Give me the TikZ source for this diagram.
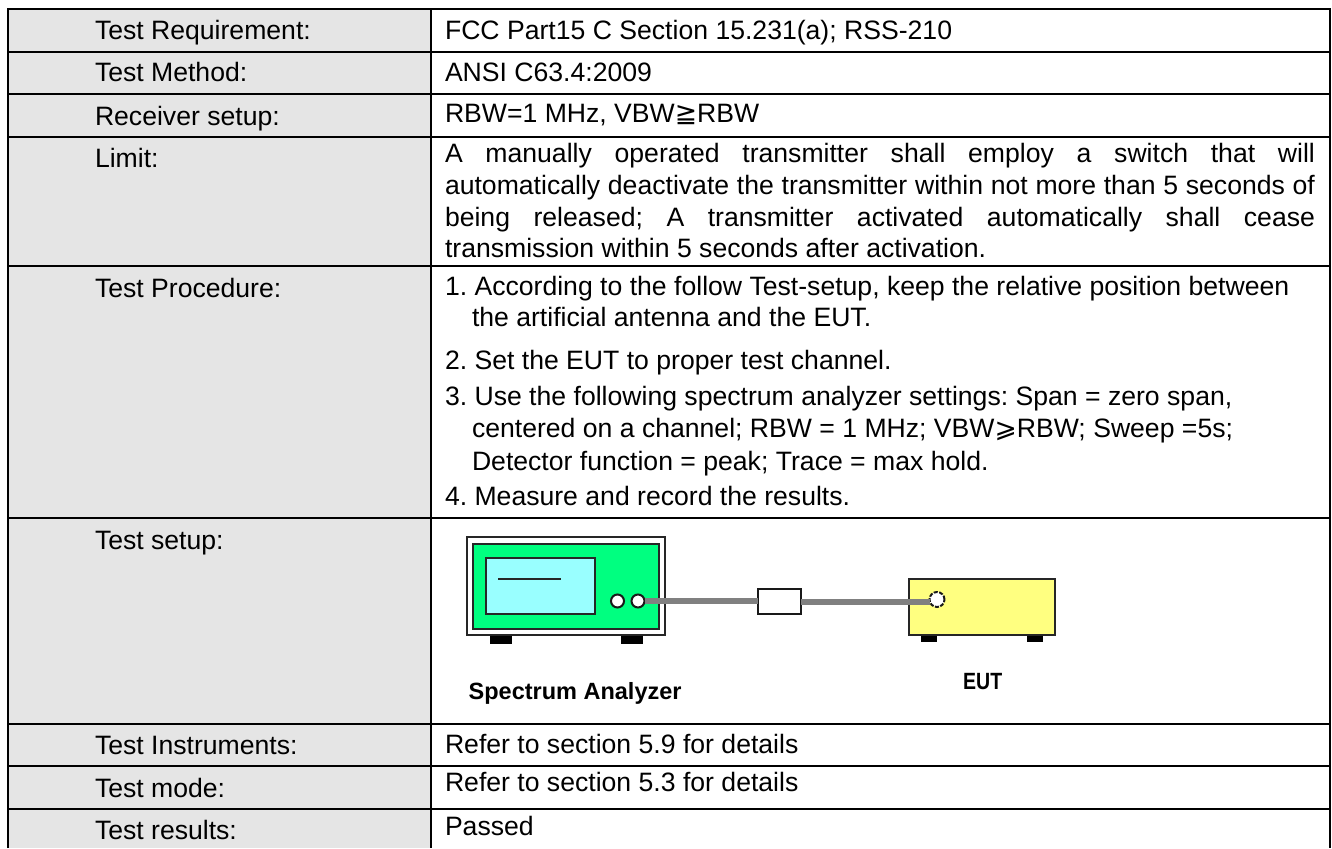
\documentclass[tikz,border=0pt]{standalone}
\usepackage{fontspec}
\setmainfont{Liberation Sans}
\newfontfamily\symfont{DejaVu Sans}
\tikzset{
  x=1pt,y=-1pt,
  txt/.style={anchor=base west,inner sep=0pt,outer sep=0pt,font=\fontsize{26.6}{31.7}\selectfont\frenchspacing},
  rule/.style={line width=2pt,black},
  dev/.style={draw=black!85,line width=2pt},
  foot/.style={fill=black,draw=none},
  port/.style={circle,draw=black!90,fill=white,line width=2pt,minimum size=13pt,inner sep=0pt,outer sep=0pt},
  cable/.style={line width=6pt,draw=black!50},
  devlabel/.style={anchor=base west,inner sep=0pt,font=\fontsize{23.5}{26}\selectfont\bfseries},
}
\begin{document}
\begin{tikzpicture}
\useasboundingbox (0,0) rectangle (1332,848);
\fill[white] (0,0) rectangle (1332,848);
\fill[black!10] (7.5,9) rectangle (431,848);
% table rules
\draw[rule] (7.5,848) -- (7.5,9) -- (1329.5,9) -- (1329.5,848);
\draw[rule] (431,9) -- (431,848);
\foreach \ry in {52,94,136.5,266,518,724,766,809}
  \draw[rule] (7.5,\ry) -- (1329.5,\ry);
% left labels
\node[txt] (l1) at (95,40) {Test Requirement:};
\node[txt] (l2) at (95,82) {Test Method:};
\node[txt] (l3) at (95,125) {Receiver setup:};
\node[txt] (l4) at (95,167.3) {Limit:};
\node[txt] (l5) at (95,297) {Test Procedure:};
\node[txt] (l6) at (95,549) {Test setup:};
\node[txt] (l7) at (95,754) {Test Instruments:};
\node[txt] (l8) at (95,797) {Test mode:};
\node[txt] (l9) at (95,839) {Test results:};
% right column
\node[txt] (r1) at (445,40) {FCC Part15 C Section 15.231(a); RSS-210};
\node[txt] (r2) at (445,82) {ANSI C63.4:2009};
\node[txt] (r3) at (445,122) {RBW=1 MHz, VBW{\symfont ≧}RBW};
\node[txt,anchor=north west,text width=870pt,align=justify] (r4) at (445,143.5)
  {A manually operated transmitter shall employ a switch that will\linebreak
   automatically deactivate the transmitter within not more than 5 seconds of\linebreak
   being released; A transmitter activated automatically shall cease\linebreak
   transmission within 5 seconds after activation.};
\node[txt] (p1a) at (445,295) {1. According to the follow Test-setup, keep the relative position between};
\node[txt] (p1b) at (472,326.7) {the artificial antenna and the EUT.};
\node[txt] (p2) at (445,369) {2. Set the EUT to proper test channel.};
\node[txt] (p3a) at (445,405) {3. Use the following spectrum analyzer settings: Span = zero span,};
\node[txt] (p3b) at (472,437.7) {centered on a channel; RBW = 1 MHz; VBW{\symfont ⩾}RBW; Sweep =5s;};
\node[txt] (p3c) at (472,470) {Detector function = peak; Trace = max hold.};
\node[txt] (p4) at (445,505) {4. Measure and record the results.};
\node[txt] (r7) at (445,753) {Refer to section 5.9 for details};
\node[txt] (r8) at (445,791.7) {Refer to section 5.3 for details};
\node[txt] (r9) at (445,835) {Passed};
% spectrum analyzer
\fill[foot] (489.5,635) rectangle (511.5,644);
\fill[foot] (621,635) rectangle (643,644);
\draw[dev,fill=white] (467,537) rectangle (665,635);
\draw[dev,fill={rgb,255:red,0;green,255;blue,128}] (473,544) rectangle (659,629);
\draw[dev,fill={rgb,255:red,153;green,255;blue,255}] (486,558) rectangle (595,614);
\draw[dev] (498,578.5) -- (561,578.5);
\node[port] (sa1) at (617.5,601) {};
\node[port] (sa2) at (638,601) {};
% attenuator
\node[draw=black!90,fill=white,line width=2pt,minimum width=43pt,minimum height=25pt,inner sep=0pt,outer sep=0pt] (att) at (779.5,601.5) {};
% EUT
\fill[foot] (920.5,635) rectangle (936.5,642);
\fill[foot] (1027,635) rectangle (1043,642);
\draw[dev,fill={rgb,255:red,255;green,255;blue,128}] (908.5,578.5) rectangle (1055,635);
\node[port,minimum size=15pt,dash pattern=on 4pt off 1.5pt] (eutp) at (937,599.5) {};
% cables
\draw[cable] (sa2.east) -- (sa2.east -| att.west);
\draw[cable] (att.east) -- (att.east -| eutp.west);
% labels
\node[devlabel] (salab) at (468.5,699) {Spectrum Analyzer};
\node[devlabel] (eutlab) at (963,689) {\scalebox{.83}[1]{EUT}};
\end{tikzpicture}
\end{document}
